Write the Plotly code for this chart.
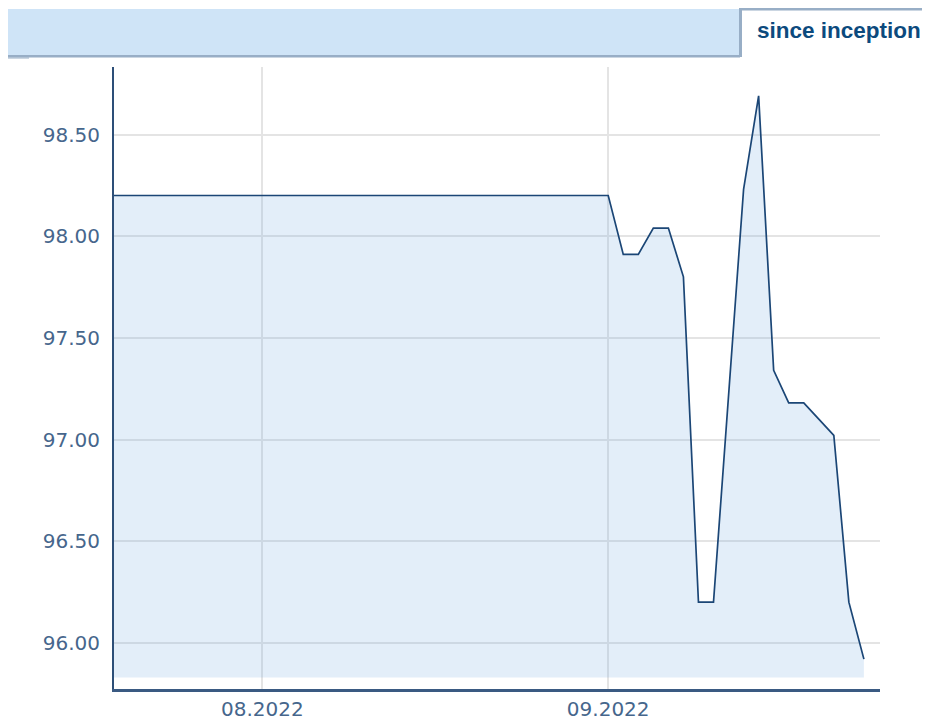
import plotly.graph_objects as go

# ---- data ----
dates = [
    "2022-07-18", "2022-07-19", "2022-07-20", "2022-07-21", "2022-07-22",
    "2022-07-25", "2022-07-26", "2022-07-27", "2022-07-28", "2022-07-29",
    "2022-08-01", "2022-08-02", "2022-08-03", "2022-08-04", "2022-08-05",
    "2022-08-08", "2022-08-09", "2022-08-10", "2022-08-11", "2022-08-12",
    "2022-08-15", "2022-08-16", "2022-08-17", "2022-08-18", "2022-08-19",
    "2022-08-22", "2022-08-23", "2022-08-24", "2022-08-25", "2022-08-26",
    "2022-08-29", "2022-08-30", "2022-08-31",
    "2022-09-01", "2022-09-02", "2022-09-05", "2022-09-06", "2022-09-07",
    "2022-09-08", "2022-09-09", "2022-09-12", "2022-09-13", "2022-09-14",
    "2022-09-15", "2022-09-16", "2022-09-19", "2022-09-20", "2022-09-21",
    "2022-09-22", "2022-09-23", "2022-09-26",
]
prices = [
    98.20, 98.20, 98.20, 98.20, 98.20,
    98.20, 98.20, 98.20, 98.20, 98.20,
    98.20, 98.20, 98.20, 98.20, 98.20,
    98.20, 98.20, 98.20, 98.20, 98.20,
    98.20, 98.20, 98.20, 98.20, 98.20,
    98.20, 98.20, 98.20, 98.20, 98.20,
    98.20, 98.20, 98.20,
    98.20, 97.91, 97.91, 98.04, 98.04,
    97.80, 96.20, 96.20, 97.20, 98.23,
    98.69, 97.34, 97.18, 97.18, 97.10,
    97.02, 96.20, 95.92,
]
fill_floor = 95.83
tick_dates = ["2022-08-01", "2022-09-01"]
tick_labels = ["08.2022", "09.2022"]
y_ticks = [96.0, 96.5, 97.0, 97.5, 98.0, 98.5]
header_label = "since inception"

# ---- geometry (page offset of 8px body margin) ----
OFF = 8
W, H = 930 - OFF, 718
L, R, T, B = 114 - OFF, 880 - OFF, 67 - OFF, 689.5 - OFF


def px(x):
    return (x - OFF - L) / (R - L)


def py(y):
    return (B - (y - OFF)) / (B - T)


fig = go.Figure()
fig.add_trace(go.Scatter(
    x=dates, y=[fill_floor] * len(dates), mode="lines",
    line=dict(width=0, color="rgba(0,0,0,0)"), hoverinfo="skip", showlegend=False,
))
fig.add_trace(go.Scatter(
    x=dates, y=prices, mode="lines", fill="tonexty",
    fillcolor="rgba(100,160,220,0.18)",
    line=dict(color="#1b4676", width=1.7), showlegend=False,
))

border = "#98aec6"
shapes = [
    dict(x0=7, x1=740, y0=9, y1=55, color="#cfe4f7"),
    dict(x0=7, x1=740, y0=55, y1=57.5, color=border),
    dict(x0=7, x1=29, y0=57.5, y1=58.5, color=border),
    dict(x0=739, x1=742, y0=8, y1=57, color=border),
    dict(x0=739, x1=935, y0=8, y1=10.5, color=border),
]
layout_shapes = []
for s in shapes:
    layout_shapes.append(dict(
        type="rect", xref="paper", yref="paper",
        x0=px(s["x0"]), x1=px(s["x1"]), y0=py(s["y1"]), y1=py(s["y0"]),
        fillcolor=s["color"], line=dict(width=0), layer="above",
    ))

tick_font = dict(family="DejaVu Sans, Verdana, sans-serif", size=20, color="#46668c")

fig.update_layout(
    width=W, height=H,
    margin=dict(l=L, r=W - R, t=T, b=H - B, autoexpand=False),
    paper_bgcolor="white", plot_bgcolor="white",
    shapes=layout_shapes,
    hovermode=False,
    annotations=[dict(
        text="<b>" + header_label + "</b>", xref="paper", yref="paper",
        x=px(839), y=py(30), xanchor="center", yanchor="middle",
        showarrow=False,
        font=dict(family="Liberation Sans, Arial, sans-serif", size=22.5, color="#0c4a7d"),
    )],
    xaxis=dict(
        type="category", range=[0.14, 51.07],
        tickvals=tick_dates, ticktext=tick_labels,
        showgrid=True, gridcolor="#e4e4e4", gridwidth=1.5,
        showline=True, linecolor="#3a5a82", linewidth=2.5,
        ticks="", tickfont=tick_font, ticklabelstandoff=0,
        zeroline=False, layer="below traces", fixedrange=True, automargin=False,
    ),
    yaxis=dict(
        range=[95.773, 98.832],
        tickvals=y_ticks, tickformat=".2f",
        showgrid=True, gridcolor="#e4e4e4", gridwidth=1.5,
        showline=True, linecolor="#2d4f78", linewidth=2,
        ticks="", tickfont=tick_font, ticklabelstandoff=8,
        zeroline=False, layer="below traces", fixedrange=True, automargin=False,
    ),
)

fig.write_html("out.html")
